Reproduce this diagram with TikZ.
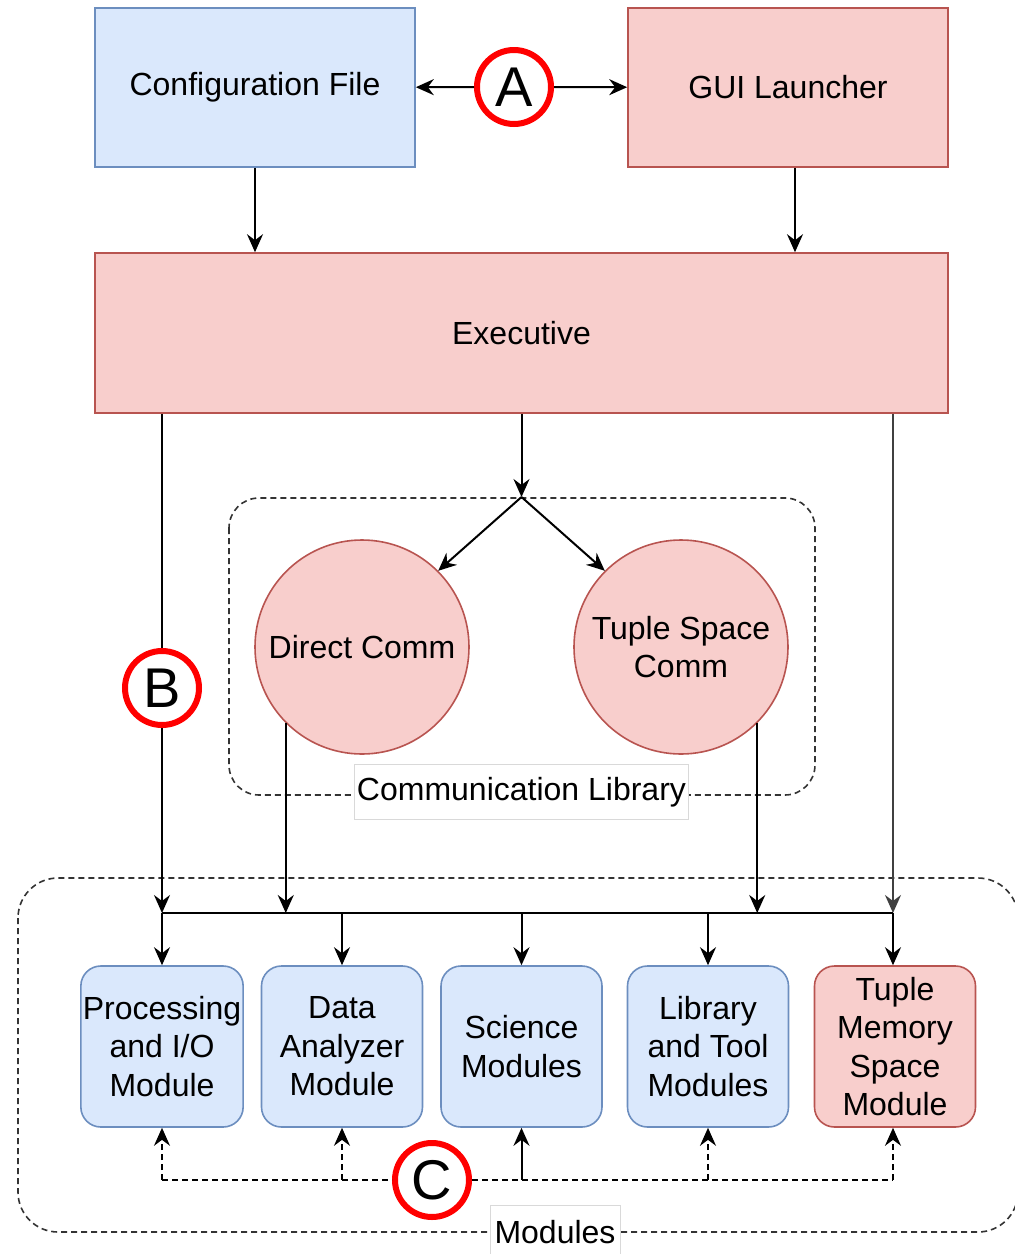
\documentclass[tikz,border=0pt]{standalone}
\usepackage{fontspec}
\setmainfont{Liberation Sans}
\definecolor{dioblue}{HTML}{DAE8FC}
\definecolor{dioblueline}{HTML}{6C8EBF}
\definecolor{diored}{HTML}{F8CECC}
\definecolor{dioredline}{HTML}{B85450}
\definecolor{markred}{HTML}{FF0000}
\usetikzlibrary{arrows.meta,positioning,shapes.geometric,calc}

\begin{document}
\begin{tikzpicture}[x=0.5pt, y=-0.5pt,
  font=\fontsize{16pt}{19.25pt}\selectfont,
  >={Stealth[length=9pt,width=8pt,inset=3pt]},
  conn/.style={line width=1pt, ->},
  bluebox/.style={draw=dioblueline, fill=dioblue, line width=0.8pt, inner sep=1pt, align=center},
  redbox/.style={draw=dioredline, fill=diored, line width=0.8pt, inner sep=1pt, align=center},
  modbox/.style={rounded corners=10pt, minimum width=80.5pt, minimum height=80.5pt},
  commcircle/.style={redbox, circle, minimum size=107pt},
  marker/.style={circle, draw=markred, fill=white, line width=3pt, minimum size=37pt, inner sep=0pt, font=\fontsize{28pt}{30pt}\selectfont},
  groupbox/.style={draw=black!80, line width=0.8pt, dash pattern=on 3pt off 2pt},
  grouplabel/.style={draw=black!15, fill=white, line width=0.5pt, inner sep=1pt}]
  \useasboundingbox (0,0) rectangle (1014,1254);

  % top row
  \node[bluebox, minimum width=160pt, minimum height=79.5pt] (cfg) at (255,87.5) {Configuration File};
  \node[redbox, minimum width=160pt, minimum height=79.5pt] (gui) at (788,87.5) {GUI Launcher};
  \node[marker] (lblA) at (514,87) {A};
  \draw[conn] (lblA) -- (cfg);
  \draw[conn] (lblA) -- (gui);

  \node[redbox, minimum width=426.5pt, minimum height=80pt] (exec) at (521.5,333) {Executive};
  \draw[conn] (cfg.south) -- (cfg.south |- exec.north);
  \draw[conn] ([xshift=3.5pt]gui.south) -- ([xshift=3.5pt]gui.south |- exec.north);

  % communication library
  \draw[groupbox, rounded corners=15pt] (229,498) rectangle (815,795);
  \node[grouplabel, minimum width=166.5pt, minimum height=27.5pt] (commlib) at (521.5,792) {Communication Library};
  \coordinate (split) at (521.5,497);
  \node[commcircle] (dcomm) at (362,647) {Direct Comm};
  \node[commcircle] (tcomm) at (681,647) {Tuple Space\\Comm};
  \draw[conn] (exec.south) -- (split);
  \draw[conn] (split) -- (dcomm.45);
  \draw[conn] (split) -- (tcomm.135);

  % modules
  \draw[groupbox, rounded corners=20pt] (18,878) rectangle (1018,1232);
  \node[grouplabel, minimum width=65pt, minimum height=27pt] (modlbl) at (555,1232) {Modules};
  \node[bluebox, modbox] (procmod) at (162,1046.5) {Processing\\and I/O\\Module};
  \node[bluebox, modbox] (datamod) at (342,1046.5) {Data\\Analyzer\\Module};
  \node[bluebox, modbox] (scimod) at (521.5,1046.5) {Science\\Modules};
  \node[bluebox, modbox] (libmod) at (708,1046.5) {Library\\and Tool\\Modules};
  \node[redbox, modbox] (tuplemod) at (895,1046.5) {Tuple\\Memory\\Space\\Module};

  \coordinate (busL) at (162,913);
  \coordinate (busR) at (893,913);
  \node[marker] (lblB) at (162,688) {B};
  \draw[line width=1pt] (exec.south -| lblB) -- (lblB);
  \draw[conn] (lblB) -- (busL);
  \draw[conn, draw=black!75] (exec.south -| busR) -- (busR);
  \draw[conn] (dcomm.south west) -- (dcomm.south west |- busL);
  \draw[conn] (tcomm.south east) -- (tcomm.south east |- busL);
  \draw[line width=1pt] (busL) -- (busR);
  \foreach \m in {procmod,datamod,scimod,libmod}
    \draw[conn] (\m.north |- busL) -- (\m.north);
  \draw[conn] (busR) -- (busR |- tuplemod.north);

  % bottom feedback
  \coordinate (cbusL) at (162,1180);
  \coordinate (cbusR) at (893,1180);
  \node[marker] (lblC) at (432,1180) {C};
  \draw[line width=1pt, dash pattern=on 3pt off 2pt] (cbusL) -- (lblC) -- (cbusR);
  \foreach \m in {procmod,datamod,libmod}
    \draw[conn, dash pattern=on 3pt off 2pt] (\m.south |- cbusL) -- (\m.south);
  \draw[conn] (scimod.south |- cbusL) -- (scimod.south);
  \draw[conn, dash pattern=on 3pt off 2pt] (cbusR) -- (cbusR |- tuplemod.south);
\end{tikzpicture}
\end{document}
